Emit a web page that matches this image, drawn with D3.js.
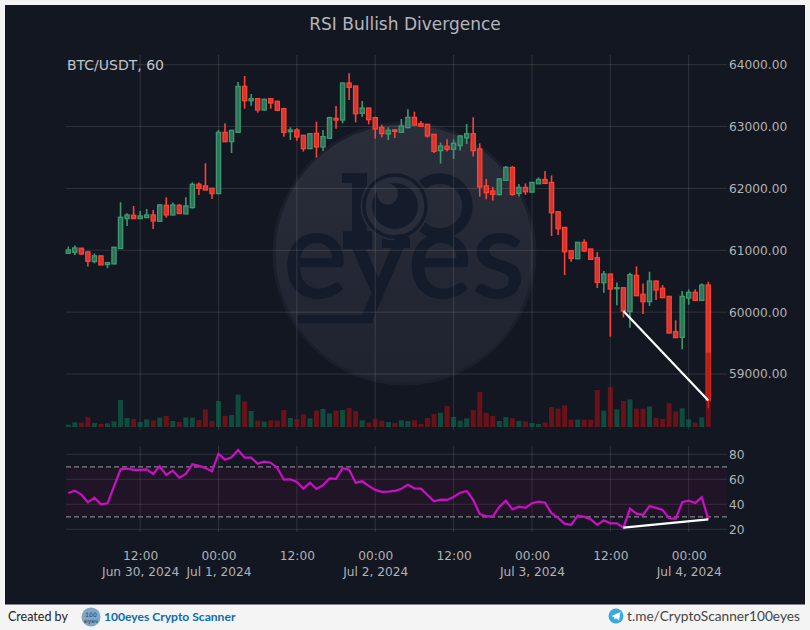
<!DOCTYPE html>
<html>
<head>
<meta charset="utf-8">
<script src="https://cdn.jsdelivr.net/npm/d3@7"></script>
<style>
    html, body { margin: 0; padding: 0; background: #f4f4f4; }
    svg { display: block; }
    text { font-family: "DejaVu Sans", sans-serif; }
</style>
</head>
<body>
<div id="chart"></div>
<script>
const chartTitle = 'RSI Bullish Divergence';
const symbolLabel = 'BTC/USDT, 60';
const firstHour = Date.UTC(2024, 5, 30, 1);

const opens = [60952,60968,61033,60974,60818,60909,60769,60780,61028,61512,61566,61512,61528,61571,61469,61727,61571,61727,61588,61690,62067,62040,62002,61916,62907,62756,62907,63650,63418,63451,63268,63451,63408,63289,62918,62945,62858,62643,62891,62670,62810,63133,63106,63704,63655,63214,63300,63144,62988,62880,62945,62907,62982,63149,63047,63036,62875,62611,62681,62632,62691,62815,62885,62638,62040,61959,61900,62131,62339,61919,62016,61941,62075,62145,62097,61623,61370,60993,60864,61128,61020,60880,60476,60616,60379,60395,60008,60595,60288,60169,60503,60385,60255,59685,59593,60228,60320,60191,60438];
const highs = [61060,61076,61040,60980,60947,60915,60805,61055,61776,61598,61717,61636,61668,61652,61744,61857,61771,61749,61857,62099,62094,62406,62008,62945,63052,62945,63720,63817,63526,63461,63451,63461,63418,63305,62988,62972,62865,62896,63079,62945,63160,63332,63710,63860,63660,63413,63305,63160,63031,62988,62961,63122,63278,63241,63090,63042,62880,62740,62794,62794,62864,63041,63149,62729,62153,62024,62164,62363,62361,62070,62081,62102,62178,62280,62210,61628,61375,60998,61133,61176,61025,60971,60664,60620,60481,60400,60637,60740,60465,60654,60508,60438,60260,59868,60341,60368,60368,60465,60492];
const lows = [60941,60925,60925,60737,60790,60758,60710,60775,61022,61394,61510,61507,61525,61345,61458,61528,61568,61588,61582,61674,61895,61970,61830,61912,62750,62573,62901,63289,63338,63225,63257,63289,63257,62837,62783,62772,62595,62637,62498,62605,62804,62966,63052,63429,63068,63160,63036,62804,62826,62783,62815,62902,62978,63014,62998,62821,62573,62401,62595,62476,62611,62718,62514,61868,61825,61803,61889,62126,61882,61871,61898,61935,62070,62078,61230,61246,60600,60815,60858,60971,60847,60390,60314,59604,60110,59916,59749,60260,59970,60099,60196,60228,59658,59582,59399,60121,60185,60185,58446];
const closes = [61006,61038,60941,60823,60909,60764,60801,61049,61534,61571,61512,61555,61571,61474,61733,61571,61733,61593,61717,62067,62002,61975,61916,62907,62756,62939,63650,63418,63451,63268,63440,63381,63262,62907,62945,62832,62643,62885,62670,62837,63144,63106,63704,63634,63208,63300,63111,62961,62885,62939,62923,63009,63149,63025,63004,62848,62600,62686,62632,62729,62848,62885,62611,62024,61932,61905,62153,62341,61903,62016,61946,62097,62145,62081,61607,61348,60977,60869,61128,60988,60853,60481,60616,60374,60395,60018,60605,60266,60169,60503,60358,60234,59663,59588,60255,60320,60191,60438,58570];
const volumes = [7,14,13,29,12,9,11,17,81,27,24,15,23,20,28,33,18,15,29,28,21,53,18,78,34,36,97,77,48,19,16,20,19,51,27,24,38,26,49,54,41,49,51,57,48,20,13,25,19,15,12,20,18,20,9,27,39,43,63,30,19,26,51,105,42,33,18,30,26,18,17,12,9,13,60,55,65,22,22,22,22,111,49,120,53,78,83,55,55,62,27,24,72,47,56,23,13,29,223];
const rsiValues = [49.1,50.9,47.7,41.6,45.3,40.0,40.8,54.4,68.0,68.5,67.5,67.5,68.0,64.3,70.4,63.5,66.9,61.3,64.3,72.0,70.7,69.1,66.4,80.5,75.7,77.6,83.5,77.3,77.3,72.5,74.1,73.3,69.1,59.7,60.0,57.9,52.5,57.3,52.3,55.2,60.8,60.3,68.8,67.7,57.3,58.4,54.7,51.5,49.9,50.1,50.7,52.5,55.7,52.8,52.5,47.5,42.4,43.7,43.5,45.9,49.3,50.7,43.5,32.3,30.4,30.4,37.9,42.9,36.0,38.1,37.1,40.8,42.1,41.3,32.8,29.1,24.5,23.5,30.9,29.9,28.0,23.5,27.2,24.8,24.8,21.3,36.5,32.5,31.5,38.7,37.1,35.5,28.8,28.3,41.6,42.9,41.1,45.6,28.0];

const priceTicks = [59000, 60000, 61000, 62000, 63000, 64000];
const rsiTicks = [20, 40, 60, 80];
const rsiBand = [30, 70];
const timeTicks = [
    Date.UTC(2024, 5, 30, 12), Date.UTC(2024, 6, 1, 0), Date.UTC(2024, 6, 1, 12), Date.UTC(2024, 6, 2, 0),
    Date.UTC(2024, 6, 2, 12), Date.UTC(2024, 6, 3, 0), Date.UTC(2024, 6, 3, 12), Date.UTC(2024, 6, 4, 0)
];
const timeLabels = ['12:00', '00:00', '12:00', '00:00', '12:00', '00:00', '12:00', '00:00'];
const dateLabels = ['Jun 30, 2024', 'Jul 1, 2024', '', 'Jul 2, 2024', '', 'Jul 3, 2024', '', 'Jul 4, 2024'];

// divergence: from the low candle to the last one
const divergenceIndexes = [85, 98];
const divergencePrices = [60018, 58570];
const divergenceRsi = [21.3, 28.0];

const GREEN = '#3d9970';
const RED = '#ff4136';
const GRID = 'rgba(255,245,230,0.125)';
const TICK = '#b2b3b5';

const pane = { left: 66, right: 727, top: 55, priceBottom: 430, rsiTop: 446, rsiBottom: 532 };

const timeOf = (i) => firstHour + i * 3600000;
const x = d3.scaleUtc().domain([timeOf(0), timeOf(98)]).range([68.3, 708.3]);
const yPrice = d3.scaleLinear().domain([59000, 64000]).range([374, 64.7]);
const yVolume = d3.scaleLinear().domain([0, 223]).range([427, 352.7]);
const yRsi = d3.scaleLinear().domain([20, 80]).range([529.3, 454.3]);

const svg = d3.select('#chart').append('svg').attr('width', 810).attr('height', 630);

svg.append('rect').attr('x', 5).attr('y', 5).attr('width', 800).attr('height', 599.5).attr('fill', '#131722');

drawWatermark();
drawGrid();
drawCandles();
drawVolume();
drawRsi();
drawAxes();
drawDivergence();
drawText();
drawFooter();

function drawWatermark() {
    const defs = svg.append('defs');
    const gradient = defs.append('linearGradient').attr('id', 'badge').attr('x1', 0).attr('x2', 0).attr('y1', 0).attr('y2', 1);
    gradient.append('stop').attr('offset', '0%').attr('stop-color', '#2a2e3a');
    gradient.append('stop').attr('offset', '100%').attr('stop-color', '#1e232f');

    const g = svg.append('g').attr('class', 'watermark');
    const dark = '#141c2c';
    g.append('circle').attr('cx', 404.5).attr('cy', 253.5).attr('r', 132).attr('fill', '#1b1f2b');
    g.append('circle').attr('cx', 404.5).attr('cy', 253.5).attr('r', 129).attr('fill', 'url(#badge)');

    // the "1" of the logo
    g.append('rect').attr('x', 342).attr('y', 173).attr('width', 16).attr('height', 10).attr('fill', dark);
    g.append('rect').attr('x', 352).attr('y', 173).attr('width', 15).attr('height', 72).attr('fill', dark);
    g.append('rect').attr('x', 343).attr('y', 231).attr('width', 29).attr('height', 18).attr('fill', dark);
    g.append('rect').attr('x', 382).attr('y', 238).attr('width', 28).attr('height', 10).attr('fill', dark);

    // second zero, then the eye on top of it
    g.append('circle').attr('cx', 440).attr('cy', 206).attr('r', 27.5).attr('fill', 'none').attr('stroke', dark).attr('stroke-width', 10.5);
    g.append('circle').attr('cx', 395).attr('cy', 206).attr('r', 34.5).attr('fill', '#292d39');
    g.append('circle').attr('cx', 395).attr('cy', 206).attr('r', 31).attr('fill', 'none').attr('stroke', dark).attr('stroke-width', 3.5);
    g.append('circle').attr('cx', 395).attr('cy', 206).attr('r', 23).attr('fill', dark);
    g.append('circle').attr('cx', 387.5).attr('cy', 194).attr('r', 10.5).attr('fill', '#292d39');

    g.append('text').attr('x', 283).attr('y', 297).attr('textLength', 242).attr('lengthAdjust', 'spacingAndGlyphs')
        .style('font-family', 'Lato').style('font-size', '122px')
        .attr('fill', dark).attr('stroke', dark).attr('stroke-width', 2).text('eyes');
    g.append('rect').attr('x', 297).attr('y', 315).attr('width', 76).attr('height', 8.5).attr('fill', dark);
}

function drawGrid() {
    const g = svg.append('g').attr('class', 'grid').attr('stroke', GRID).attr('stroke-width', 1);
    g.selectAll('.price').data(priceTicks).join('line').attr('class', 'price')
        .attr('x1', pane.left).attr('x2', pane.right).attr('y1', (d) => yPrice(d)).attr('y2', (d) => yPrice(d));
    g.selectAll('.rsi').data(rsiTicks).join('line').attr('class', 'rsi')
        .attr('x1', pane.left).attr('x2', pane.right).attr('y1', (d) => yRsi(d)).attr('y2', (d) => yRsi(d));
    g.selectAll('.timeTop').data(timeTicks).join('line').attr('class', 'timeTop')
        .attr('x1', (d) => x(d)).attr('x2', (d) => x(d)).attr('y1', pane.top).attr('y2', pane.priceBottom);
    g.selectAll('.timeBottom').data(timeTicks).join('line').attr('class', 'timeBottom')
        .attr('x1', (d) => x(d)).attr('x2', (d) => x(d)).attr('y1', pane.rsiTop).attr('y2', pane.rsiBottom);
}

function drawCandles() {
    const g = svg.append('g').attr('class', 'candles');
    const color = (i) => (closes[i] >= opens[i] ? GREEN : RED);
    g.selectAll('line').data(d3.range(opens.length)).join('line')
        .attr('x1', (i) => x(timeOf(i))).attr('x2', (i) => x(timeOf(i)))
        .attr('y1', (i) => yPrice(highs[i])).attr('y2', (i) => yPrice(lows[i]))
        .attr('stroke', color).attr('stroke-width', 1.6);
    g.selectAll('rect').data(d3.range(opens.length)).join('rect')
        .attr('x', (i) => x(timeOf(i)) - 2.1)
        .attr('width', 4.2)
        .attr('y', (i) => yPrice(Math.max(opens[i], closes[i])))
        .attr('height', (i) => Math.abs(yPrice(opens[i]) - yPrice(closes[i])))
        .attr('fill', (i) => (closes[i] >= opens[i] ? '#2f7159' : '#d4352e'))
        .attr('stroke', color).attr('stroke-width', 1.3);
}

function drawVolume() {
    svg.append('g').attr('class', 'volume').selectAll('rect').data(d3.range(volumes.length)).join('rect')
        .attr('x', (i) => x(timeOf(i)) - 2.5)
        .attr('width', 5)
        .attr('y', (i) => yVolume(volumes[i]))
        .attr('height', (i) => yVolume(0) - yVolume(volumes[i]))
        .attr('fill', (i) => (closes[i] >= opens[i] ? 'rgba(12,113,82,0.6)' : 'rgba(164,15,17,0.6)'));
}

function drawRsi() {
    const g = svg.append('g').attr('class', 'rsi');
    g.append('rect').attr('x', pane.left).attr('width', pane.right - pane.left)
        .attr('y', yRsi(rsiBand[1])).attr('height', yRsi(rsiBand[0]) - yRsi(rsiBand[1]))
        .attr('fill', 'rgba(120,0,80,0.13)');
    g.selectAll('.band').data(rsiBand).join('line').attr('class', 'band')
        .attr('x1', pane.left).attr('x2', pane.right).attr('y1', (d) => yRsi(d)).attr('y2', (d) => yRsi(d))
        .attr('stroke', '#7f8187').attr('stroke-width', 1.3).attr('stroke-dasharray', '5,3');
    const line = d3.line().x((d, i) => x(timeOf(i))).y((d) => yRsi(d));
    g.append('path').attr('d', line(rsiValues)).attr('fill', 'none').attr('stroke', '#cc0fc4').attr('stroke-width', 2.2);
}

function drawAxes() {
    const priceAxis = d3.axisRight(yPrice).tickValues(priceTicks).tickSize(0).tickPadding(0).tickFormat(d3.format('.2f'));
    const rsiAxis = d3.axisRight(yRsi).tickValues(rsiTicks).tickSize(0).tickPadding(0);
    const timeAxis = d3.axisBottom(x).tickValues(timeTicks).tickSize(0).tickPadding(0).tickFormat('');

    const priceG = svg.append('g').attr('transform', 'translate(729,0)').call(priceAxis);
    const rsiG = svg.append('g').attr('transform', 'translate(729,0)').call(rsiAxis);
    const timeG = svg.append('g').attr('transform', 'translate(0,543)').call(timeAxis);

    [priceG, rsiG, timeG].forEach((g) => {
        g.select('.domain').remove();
        g.selectAll('text').style('font-family', '"DejaVu Sans"').style('font-size', '12.2px').attr('fill', TICK);
    });

    timeG.selectAll('.tick text').each(function (d, i) {
        const label = d3.select(this).attr('dy', null).attr('y', 0).text(null);
        label.append('tspan').attr('x', 0).attr('y', 17).text(timeLabels[i]);
        label.append('tspan').attr('x', 0).attr('y', 33).text(dateLabels[i]);
    });
}

function drawDivergence() {
    const g = svg.append('g').attr('class', 'divergence').attr('stroke', '#fff').attr('stroke-width', 2.2);
    const ends = divergenceIndexes.map((i) => x(timeOf(i)));
    g.append('line').attr('x1', ends[0]).attr('x2', ends[1]).attr('y1', yPrice(divergencePrices[0])).attr('y2', yPrice(divergencePrices[1]));
    g.append('line').attr('x1', ends[0]).attr('x2', ends[1]).attr('y1', yRsi(divergenceRsi[0])).attr('y2', yRsi(divergenceRsi[1]));
}

function drawText() {
    svg.append('text').attr('x', 405).attr('y', 30).attr('text-anchor', 'middle')
        .style('font-size', '17px').attr('fill', '#b4b6ba').text(chartTitle);
    svg.append('text').attr('x', 67).attr('y', 70)
        .style('font-size', '14px').attr('fill', '#c4c5c7').text(symbolLabel);
}

function drawFooter() {
    const g = svg.append('g').attr('class', 'footer');
    g.append('text').attr('x', 8).attr('y', 621).style('font-family', 'Lato').style('font-size', '12.5px').attr('fill', '#222').text('Created by');
    g.append('circle').attr('cx', 91).attr('cy', 617).attr('r', 9.5).attr('fill', '#7fa6c4');
    g.append('text').attr('x', 91).attr('y', 617).attr('text-anchor', 'middle').style('font-size', '6px').attr('fill', '#1f3f63').text('100');
    g.append('text').attr('x', 91).attr('y', 623).attr('text-anchor', 'middle').style('font-size', '6px').attr('fill', '#1f3f63').text('eyes');
    g.append('text').attr('x', 104).attr('y', 621).style('font-family', 'Lato').style('font-weight', 700).style('font-size', '12.1px').attr('fill', '#0b6cb3').text('100eyes Crypto Scanner');

    g.append('circle').attr('cx', 616).attr('cy', 616).attr('r', 7.5).attr('fill', '#38a9e0');
    g.append('path').attr('d', 'M611.5 616 L620.5 612 L619 620.5 L616 618.2 L614.5 619.5 L614.2 617.2 Z').attr('fill', '#fff');
    g.append('text').attr('x', 627).attr('y', 621).style('font-family', 'Lato').style('font-size', '13.7px').attr('fill', '#444').text('t.me/CryptoScanner100eyes');
}
</script>
</body>
</html>
